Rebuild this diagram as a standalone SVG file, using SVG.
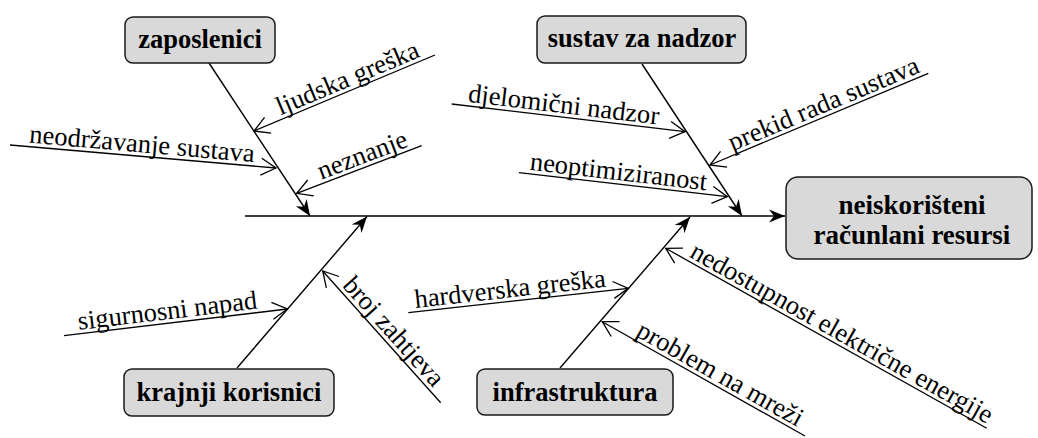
<svg xmlns="http://www.w3.org/2000/svg" width="1038" height="438" viewBox="0 0 1038 438">
<style>
.bx{fill:#d9d9d9;stroke:#1a1a1a;stroke-width:1.5}
text{font-family:'Liberation Serif','Times New Roman','DejaVu Serif',serif;fill:#000;text-anchor:middle}
.nt{font-weight:bold;font-size:26.5px}
.et{font-weight:bold;font-size:27px}
.lt{font-size:26.5px}
.bone{stroke:#000;stroke-width:1.4;fill:none;marker-end:url(#solid)}
.sub{stroke:#000;stroke-width:1.3;fill:none;marker-end:url(#open)}
</style>
<defs>
<marker id="solid" markerUnits="userSpaceOnUse" orient="auto" refX="0" refY="0" markerWidth="20" markerHeight="16" viewBox="-18 -8 20 16" overflow="visible">
<path d="M0,0 L-16,-6.5 L-11,0 L-16,6.5 Z" fill="#000"/>
</marker>
<marker id="open" markerUnits="userSpaceOnUse" orient="auto" refX="0" refY="0" markerWidth="20" markerHeight="22" viewBox="-18 -11 20 22" overflow="visible">
<path d="M-15,-8.5 L0,0 L-15,8.5" fill="none" stroke="#000" stroke-width="1.3"/>
</marker>
</defs>
<g id="connectors">
<path class="bone" d="M245,216 L785,216"/>
<path class="bone" d="M209,63 L310,216"/>
<path class="bone" d="M642,64 L742,216"/>
<path class="bone" d="M237,368 L367,216.5"/>
<path class="bone" d="M560,368 L690,217"/>
<path class="sub" d="M435,55 L254,131"/>
<path class="sub" d="M10,145 L276,168"/>
<path class="sub" d="M421.7,145.7 L296.7,193.3"/>
<path class="sub" d="M451.7,104 L685,131.7"/>
<path class="sub" d="M928.3,73.3 L710,165"/>
<path class="sub" d="M519,172.7 L727.3,196.7"/>
<path class="sub" d="M64,335.7 L287.3,309"/>
<path class="sub" d="M440.7,402.7 L322.7,271"/>
<path class="sub" d="M408.3,312.7 L628.3,288.3"/>
<path class="sub" d="M986.7,428.3 L665.7,248.3"/>
<path class="sub" d="M805,436 L602.3,321.7"/>
<g font-family="Liberation Serif, serif">
<text class="lt" transform="translate(344.5,93) rotate(-22.8)" x="8.5" y="-4">ljudska greška</text>
<text class="lt" transform="translate(143,156.5) rotate(4.94)" x="-2" y="-4">neodržavanje sustava</text>
<text class="lt" transform="translate(359.2,169.5) rotate(-20.85)" x="8" y="-4">neznanje</text>
<text class="lt" transform="translate(568.3,117.8) rotate(6.77)" x="-6" y="-4">djelomični nadzor</text>
<text class="lt" transform="translate(819.2,119.2) rotate(-22.8)" x="10" y="-4">prekid rada sustava</text>
<text class="lt" transform="translate(623.2,184.7) rotate(6.57)" x="-6" y="-4">neoptimiziranost</text>
<text class="lt" transform="translate(175.7,322.3) rotate(-6.82)" x="-7" y="-4">sigurnosni napad</text>
<text class="lt" transform="translate(381.7,336.8) rotate(48.1)" x="4" y="-4">broj zahtjeva</text>
<text class="lt" transform="translate(518.3,300.5) rotate(-6.33)" x="-7" y="-4">hardverska greška</text>
<text class="lt" transform="translate(826.2,338.3) rotate(29.3)" x="11" y="-4">nedostupnost električne energije</text>
<text class="lt" transform="translate(703.7,378.9) rotate(29.4)" x="12" y="-4">problem na mreži</text>
</g>
</g>
<g id="zaposlenici">
<rect class="bx" x="125" y="17" width="150" height="46" rx="8"/>
<text class="nt" x="200" y="48">zaposlenici</text>
</g>
<g id="sustav-za-nadzor">
<rect class="bx" x="537" y="16" width="209" height="47" rx="8"/>
<text class="nt" x="642" y="47">sustav za nadzor</text>
</g>
<g id="krajnji-korisnici">
<rect class="bx" x="124" y="369" width="210" height="47" rx="8"/>
<text class="nt" x="229" y="401">krajnji korisnici</text>
</g>
<g id="infrastruktura">
<rect class="bx" x="477" y="369" width="196" height="46" rx="8"/>
<text class="nt" x="575" y="401">infrastruktura</text>
</g>
<g id="effect">
<rect class="bx" x="786" y="177" width="246" height="82" rx="12"/>
<text class="et" x="912" y="214">neiskorišteni</text>
<text class="et" x="912" y="244">računlani resursi</text>
</g>
</svg>
